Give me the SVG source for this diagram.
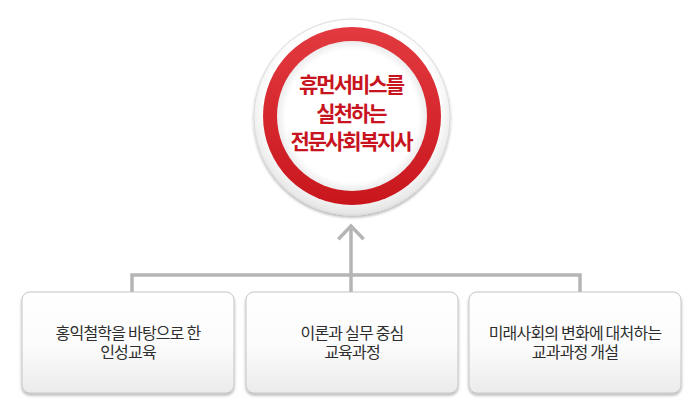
<svg xmlns="http://www.w3.org/2000/svg" width="700" height="420" viewBox="0 0 700 420">
<defs>
<radialGradient id="outerG" cx="50%" cy="45%" r="55%">
<stop offset="0.8" stop-color="#ffffff"/>
<stop offset="1" stop-color="#e4e4e4"/>
</radialGradient>
<linearGradient id="redG" x1="0" y1="0" x2="0" y2="1">
<stop offset="0" stop-color="#e23a40"/>
<stop offset="1" stop-color="#c9161d"/>
</linearGradient>
<radialGradient id="innerG" cx="50%" cy="50%" r="50%">
<stop offset="0.88" stop-color="#ffffff"/>
<stop offset="1" stop-color="#ececec"/>
</radialGradient>
<linearGradient id="boxG" x1="0" y1="0" x2="0" y2="1">
<stop offset="0" stop-color="#ffffff"/>
<stop offset="0.55" stop-color="#fbfbfb"/>
<stop offset="1" stop-color="#ebebeb"/>
</linearGradient>
<filter id="sh" x="-10%" y="-10%" width="120%" height="130%">
<feGaussianBlur in="SourceAlpha" stdDeviation="1.5"/>
<feOffset dy="2" result="b"/>
<feComponentTransfer><feFuncA type="linear" slope="0.3"/></feComponentTransfer>
<feMerge><feMergeNode/><feMergeNode in="SourceGraphic"/></feMerge>
</filter>
</defs>
<style>
.box{fill:url(#boxG);stroke:#c6c6c6;stroke-width:1;filter:url(#sh)}
.bt{font-family:"Noto Sans CJK KR","Noto Sans",sans-serif;font-size:16px;fill:#2e2e2e;text-anchor:middle;letter-spacing:-0.8px}
.ct{font-family:"Noto Sans CJK KR","Noto Sans",sans-serif;font-size:21px;font-weight:bold;fill:#c8141e;text-anchor:middle;letter-spacing:-2px}
.ln{fill:none;stroke:#b5b5b5;stroke-width:3.5}
</style>
<g id="connectors">
<polyline class="ln" points="132,292 132,275 580,275 580,292"/>
<line class="ln" x1="351" y1="227" x2="351" y2="292" stroke-width="4"/>
<polyline class="ln" points="339.5,238 351,226 362.5,238" stroke-width="4.5" stroke-linecap="square"/>
</g>
<g id="center">
<circle cx="352" cy="117" r="98" fill="url(#outerG)" stroke="#dcdcdc" stroke-width="1" filter="url(#sh)"/>
<circle cx="352" cy="116" r="89" fill="url(#redG)"/>
<circle cx="352" cy="116" r="75" fill="url(#innerG)"/>
<text class="ct"><tspan x="351" y="92">휴먼서비스를</tspan><tspan x="351" y="120.5">실천하는</tspan><tspan x="351" y="149">전문사회복지사</tspan></text>
</g>
<g id="box1">
<rect class="box" x="22" y="292" width="212" height="101" rx="8"/>
<text class="bt"><tspan x="128" y="339">홍익철학을 바탕으로 한</tspan><tspan x="128" y="358">인성교육</tspan></text>
</g>
<g id="box2">
<rect class="box" x="246" y="292" width="212" height="101" rx="8"/>
<text class="bt"><tspan x="352" y="339">이론과 실무 중심</tspan><tspan x="352" y="358">교육과정</tspan></text>
</g>
<g id="box3">
<rect class="box" x="469" y="292" width="212" height="101" rx="8"/>
<text class="bt"><tspan x="575" y="339">미래사회의 변화에 대처하는</tspan><tspan x="575" y="358">교과과정 개설</tspan></text>
</g>
</svg>
